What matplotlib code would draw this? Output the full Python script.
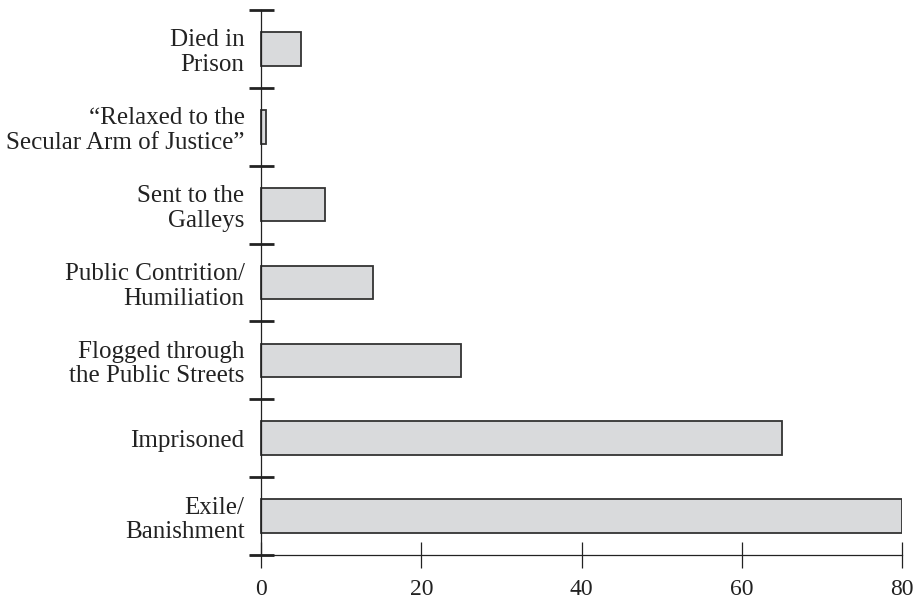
import matplotlib
matplotlib.use('Agg')
import matplotlib.pyplot as plt
import numpy as np

# punishments, bottom to top
categories = ['Exile/\nBanishment', 'Imprisoned', 'Flogged through\nthe Public Streets',
              'Public Contrition/\nHumiliation', 'Sent to the\nGalleys',
              '\u201cRelaxed to the\nSecular Arm of Justice\u201d', 'Died in\nPrison']
counts = [80, 65, 25, 14, 8, 0.6, 5]
xticks = [0, 20, 40, 60, 80]

plt.rcParams['font.family'] = ['Liberation Serif', 'DejaVu Serif']

fig = plt.figure(figsize=(9.16, 6), dpi=100)
ax = fig.add_axes([250/916, 45/600, 652/916, 545/600])

y = np.arange(len(categories))
ax.barh(y, counts, height=0.43, color='#d9dadc', edgecolor='#333333', linewidth=1.3, zorder=2)

ax.set_xlim(-1.4, 80)
ax.set_ylim(-0.5, len(categories) - 0.5)

for s in ['top', 'right']:
    ax.spines[s].set_visible(False)
ax.spines['left'].set_position(('data', 0))
ax.spines['left'].set_linewidth(0.9)
ax.spines['bottom'].set_linewidth(0.9)
ax.spines['left'].set_color('#222222')
ax.spines['bottom'].set_color('#222222')

# boundary ticks on y, labels at category centres
ax.set_yticks(np.arange(len(categories) + 1) - 0.5)
ax.set_yticklabels([])
ax.set_yticks(y, minor=True)
ax.set_yticklabels(categories, minor=True, fontsize=18, ha='right', multialignment='right',
                   linespacing=1.15, color='#222222')
ax.tick_params(axis='y', which='major', direction='inout', length=18, width=2, color='#222222')
ax.tick_params(axis='y', which='minor', length=0, pad=12)

ax.set_xticks(xticks)
ax.set_xticklabels([str(t) for t in xticks], fontsize=17, color='#222222')
ax.tick_params(axis='x', direction='inout', length=19, width=0.9, color='#222222', pad=8)

plt.savefig('out.png', dpi=100)
